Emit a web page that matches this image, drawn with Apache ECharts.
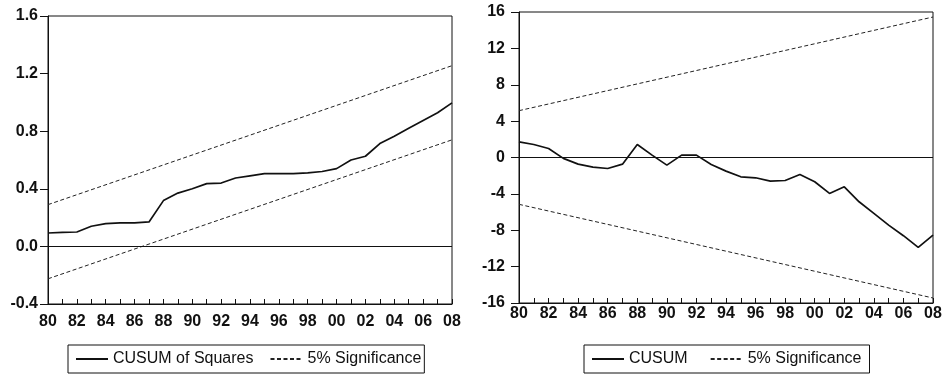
<!DOCTYPE html>
<html>
<head>
<meta charset="UTF-8">
<title>CUSUM</title>
<script src="https://cdn.jsdelivr.net/npm/echarts@6/dist/echarts.min.js"></script>
<style>
	html,body{margin:0;padding:0;background:#fff;}
	#main{width:946px;height:375px;}
</style>
</head>
<body>
<div id="main"></div>
<script type="text/javascript">
var years=[1980,1981,1982,1983,1984,1985,1986,1987,1988,1989,1990,1991,1992,1993,1994,
	1995,1996,1997,1998,1999,2000,2001,2002,2003,2004,2005,2006,2007,2008];
// CUSUM of Squares (left)
var cusumSq=[0.093,0.097,0.10,0.14,0.158,0.163,0.163,0.17,0.318,0.37,0.40,0.436,0.44,0.475,0.49,
	0.505,0.505,0.505,0.51,0.52,0.54,0.60,0.626,0.714,0.765,0.82,0.874,0.928,0.997];
var sqUpper=[0.29,1.255];		// 1980, 2008
var sqLower=[-0.225,0.74];
// CUSUM (right)
var cusum=[1.72,1.43,0.99,-0.1,-0.73,-1.06,-1.21,-0.73,1.43,0.26,-0.84,0.26,0.26,-0.77,-1.5,
	-2.12,-2.23,-2.6,-2.53,-1.87,-2.67,-3.95,-3.22,-4.87,-6.15,-7.43,-8.6,-9.88,-8.53];
var cuUpper=[5.15,15.45];
var cuLower=[-5.15,-15.45];
var bandYears=[1980,2008];

function pairs(xs,vs){
	return xs.map(function(x,i){return [x,vs[i]];});
}

var font='"Liberation Sans", Arial, sans-serif';

function xAxisOf(idx,margin){
	return {
		type:'value', gridIndex:idx, min:1980, max:2008, interval:1,
		axisLine:{onZero:false,lineStyle:{color:'#111',width:1}},
		axisTick:{inside:true,length:5,lineStyle:{color:'#111'}},
		splitLine:{show:false},
		axisLabel:{
			color:'#111', fontFamily:font, fontSize:16, fontWeight:'bold', margin:margin,
			formatter:function(v){ return v%2===0 ? String(v).slice(2) : ''; }
		}
	};
}
function yAxisOf(idx,min,max,step,dec,margin){
	return {
		type:'value', gridIndex:idx, min:min, max:max, interval:step,
		axisLine:{show:true,lineStyle:{color:'#111',width:1}},
		axisTick:{show:true,inside:false,length:8,lineStyle:{color:'#111'}},
		splitLine:{show:false},
		axisLabel:{
			color:'#111', fontFamily:font, fontSize:16, fontWeight:'bold', margin:margin,
			formatter:function(v){ return v.toFixed(dec); }
		}
	};
}
function solid(name,idx,data){
	return {
		name:name, type:'line', xAxisIndex:idx, yAxisIndex:idx, data:data,
		symbol:'none', animation:false, color:'#111',
		lineStyle:{color:'#111',width:1.7},
		markLine:{
			silent:true, symbol:'none', label:{show:false},
			lineStyle:{color:'#111',type:'solid',width:1.2},
			data:[{yAxis:0}]
		}
	};
}
function dashed(idx,data){
	return {
		name:'5% Significance', type:'line', xAxisIndex:idx, yAxisIndex:idx, data:data,
		symbol:'none', animation:false, color:'#222',
		lineStyle:{color:'#222',width:1,type:[4,2.5]}
	};
}
function legendOf(left,names,gap,padR){
	return {
		left:left, top:345, data:names,
		borderColor:'#111', borderWidth:1, borderRadius:0,
		padding:[6,padR,6,7], itemGap:gap, itemWidth:32, itemHeight:10,
		selectedMode:false,
		itemStyle:{opacity:0},
		textStyle:{color:'#111',fontFamily:font,fontSize:16}
	};
}

var myChart=echarts.init(document.getElementById('main'));
myChart.setOption({
	animation:false,
	grid:[
		{left:48,top:16,width:404,height:288,show:true,borderColor:'#111',borderWidth:1},
		{left:519,top:12,width:414,height:291,show:true,borderColor:'#111',borderWidth:1}
	],
	xAxis:[xAxisOf(0,10),xAxisOf(1,3)],
	yAxis:[yAxisOf(0,-0.4,1.6,0.4,1,10),yAxisOf(1,-16,16,4,0,14)],
	legend:[
		legendOf(68,['CUSUM of Squares','5% Significance'],16,3),
		legendOf(584,['CUSUM','5% Significance'],22,8)
	],
	series:[
		solid('CUSUM of Squares',0,pairs(years,cusumSq)),
		dashed(0,pairs(bandYears,sqUpper)),
		dashed(0,pairs(bandYears,sqLower)),
		solid('CUSUM',1,pairs(years,cusum)),
		dashed(1,pairs(bandYears,cuUpper)),
		dashed(1,pairs(bandYears,cuLower))
	]
});
</script>
</body>
</html>
